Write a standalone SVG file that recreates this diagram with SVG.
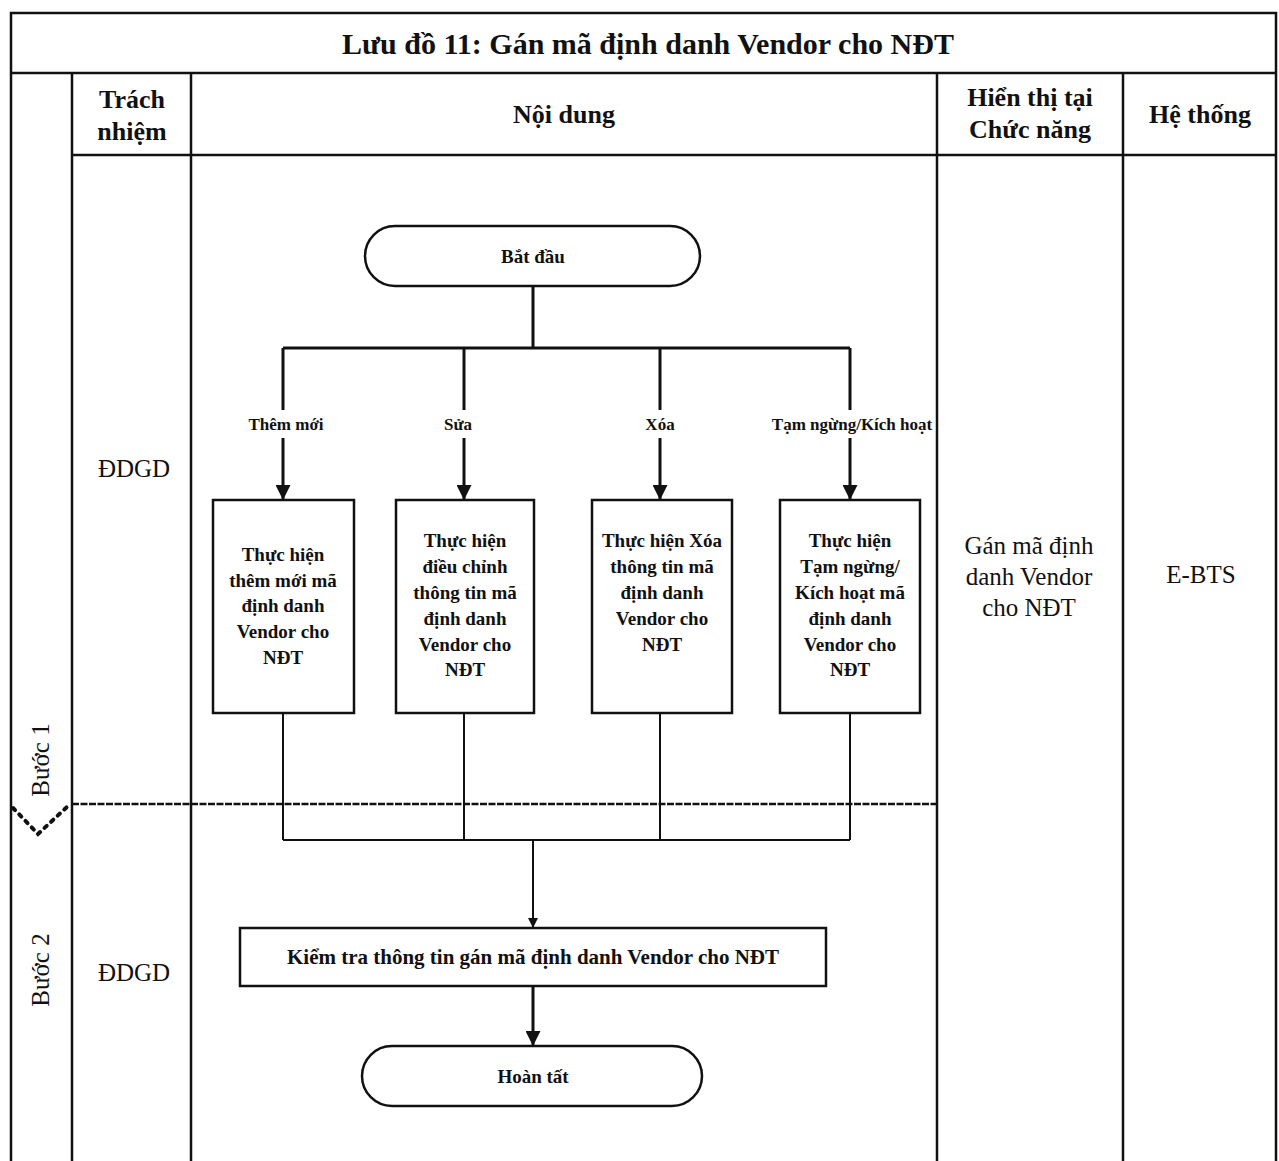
<svg xmlns="http://www.w3.org/2000/svg" width="1279" height="1161" viewBox="0 0 1279 1161">
  <style>
    .grid { stroke: #111; stroke-width: 2.5; fill: none; }
    .box { fill: #fff; stroke: #111; stroke-width: 2.5; }
    .wire { stroke: #111; stroke-width: 2; fill: none; }
    .wire-b { stroke: #111; stroke-width: 3; fill: none; }
    .hdr { font-family: "Liberation Serif", "DejaVu Serif", serif; font-weight: bold; font-size: 26px; fill: #111; text-anchor: middle; }
    .title { font-family: "Liberation Serif", "DejaVu Serif", serif; font-weight: bold; font-size: 30px; fill: #111; text-anchor: middle; }
    .cell { font-family: "Liberation Serif", "DejaVu Serif", serif; font-size: 25px; fill: #111; text-anchor: middle; }
    .node { font-family: "Liberation Serif", "DejaVu Serif", serif; font-weight: bold; font-size: 19px; fill: #111; text-anchor: middle; }
    .lbl { font-family: "Liberation Serif", "DejaVu Serif", serif; font-weight: bold; font-size: 17px; fill: #111; text-anchor: middle; }
  </style>
  <defs>
    <marker id="arrowBig" viewBox="0 0 10 10" refX="10" refY="5" markerWidth="5" markerHeight="5" markerUnits="strokeWidth" orient="auto">
      <path d="M0,0 L10,5 L0,10 z" fill="#111"/>
    </marker>
    <marker id="arrowSmall" viewBox="0 0 10 10" refX="10" refY="5" markerWidth="5" markerHeight="5" markerUnits="strokeWidth" orient="auto">
      <path d="M0,0 L10,5 L0,10 z" fill="#111"/>
    </marker>
  </defs>
  <rect width="1279" height="1161" fill="#fff"/>

  <!-- table frame -->
  <g id="table">
    <path class="grid" d="M11,1161 V13 H1276 V1161"/>
    <line class="grid" x1="11" y1="73" x2="1276" y2="73"/>
    <line class="grid" x1="72" y1="155" x2="1276" y2="155"/>
    <line class="grid" x1="72" y1="73" x2="72" y2="1161"/>
    <line class="grid" x1="191" y1="73" x2="191" y2="1161"/>
    <line class="grid" x1="937" y1="73" x2="937" y2="1161"/>
    <line class="grid" x1="1123" y1="73" x2="1123" y2="1161"/>
    <!-- step separator -->
    <line x1="72" y1="804" x2="937" y2="804" stroke="#111" stroke-width="2.5" stroke-dasharray="7,1.5"/>
    <path d="M13,808 L38,834 L68,806" fill="none" stroke="#111" stroke-width="4" stroke-dasharray="3,6" stroke-linecap="round"/>
  </g>

  <g id="headers">
    <text class="title" x="648" y="54">Lưu đồ 11: Gán mã định danh Vendor cho NĐT</text>
    <text class="hdr" x="132" y="108">Trách</text>
    <text class="hdr" x="132" y="140">nhiệm</text>
    <text class="hdr" x="564" y="123">Nội dung</text>
    <text class="hdr" x="1030" y="106">Hiển thị tại</text>
    <text class="hdr" x="1030" y="138">Chức năng</text>
    <text class="hdr" x="1200" y="123">Hệ thống</text>
  </g>

  <g id="steps">
    <text class="cell" transform="translate(49,760) rotate(-90)">Bước 1</text>
    <text class="cell" transform="translate(49,970) rotate(-90)">Bước 2</text>
    <text class="cell" x="134" y="477">ĐDGD</text>
    <text class="cell" x="134" y="981">ĐDGD</text>
    <text class="cell" x="1029" y="554">Gán mã định</text>
    <text class="cell" x="1029" y="585">danh Vendor</text>
    <text class="cell" x="1029" y="616">cho NĐT</text>
    <text class="cell" x="1201" y="583">E-BTS</text>
  </g>

  <!-- connectors -->
  <g id="connectors">
    <path class="wire-b" d="M533,286 V348"/>
    <path class="wire-b" d="M283,348 H850"/>
    <path class="wire-b" d="M283,348 V410 M283,438 V500" marker-end="url(#arrowBig)"/>
    <path class="wire-b" d="M464,348 V410 M464,438 V500" marker-end="url(#arrowBig)"/>
    <path class="wire-b" d="M660,348 V410 M660,438 V500" marker-end="url(#arrowBig)"/>
    <path class="wire-b" d="M850,348 V410 M850,438 V500" marker-end="url(#arrowBig)"/>
    <text class="lbl" x="286" y="430">Thêm mới</text>
    <text class="lbl" x="458" y="430">Sửa</text>
    <text class="lbl" x="660" y="430">Xóa</text>
    <text class="lbl" x="852" y="430">Tạm ngừng/Kích hoạt</text>
    <path class="wire" d="M283,713 V840 M464,713 V840 M660,713 V840 M850,713 V840 M283,840 H850"/>
    <path class="wire" d="M533,840 V928" marker-end="url(#arrowSmall)"/>
    <path class="wire-b" d="M533,986 V1046" marker-end="url(#arrowBig)"/>
  </g>

  <g id="start">
    <rect class="box" x="365" y="226" width="335" height="60" rx="30"/>
    <text class="node" x="533" y="263">Bắt đầu</text>
  </g>

  <g id="add">
    <rect class="box" x="213" y="500" width="141" height="213"/>
    <text class="node" x="283" y="561">Thực hiện</text>
    <text class="node" x="283" y="587">thêm mới mã</text>
    <text class="node" x="283" y="612">định danh</text>
    <text class="node" x="283" y="638">Vendor cho</text>
    <text class="node" x="283" y="664">NĐT</text>
  </g>

  <g id="edit">
    <rect class="box" x="396" y="500" width="138" height="213"/>
    <text class="node" x="465" y="547">Thực hiện</text>
    <text class="node" x="465" y="573">điều chỉnh</text>
    <text class="node" x="465" y="599">thông tin mã</text>
    <text class="node" x="465" y="625">định danh</text>
    <text class="node" x="465" y="651">Vendor cho</text>
    <text class="node" x="465" y="676">NĐT</text>
  </g>

  <g id="delete">
    <rect class="box" x="592" y="500" width="140" height="213"/>
    <text class="node" x="662" y="547">Thực hiện Xóa</text>
    <text class="node" x="662" y="573">thông tin mã</text>
    <text class="node" x="662" y="599">định danh</text>
    <text class="node" x="662" y="625">Vendor cho</text>
    <text class="node" x="662" y="651">NĐT</text>
  </g>

  <g id="suspend">
    <rect class="box" x="780" y="500" width="140" height="213"/>
    <text class="node" x="850" y="547">Thực hiện</text>
    <text class="node" x="850" y="573">Tạm ngừng/</text>
    <text class="node" x="850" y="599">Kích hoạt mã</text>
    <text class="node" x="850" y="625">định danh</text>
    <text class="node" x="850" y="651">Vendor cho</text>
    <text class="node" x="850" y="676">NĐT</text>
  </g>

  <g id="check">
    <rect class="box" x="240" y="928" width="586" height="58"/>
    <text class="node" x="533" y="964" style="font-size:21px">Kiểm tra thông tin gán mã định danh Vendor cho NĐT</text>
  </g>

  <g id="end">
    <rect class="box" x="362" y="1046" width="340" height="60" rx="30"/>
    <text class="node" x="533" y="1083">Hoàn tất</text>
  </g>
</svg>
